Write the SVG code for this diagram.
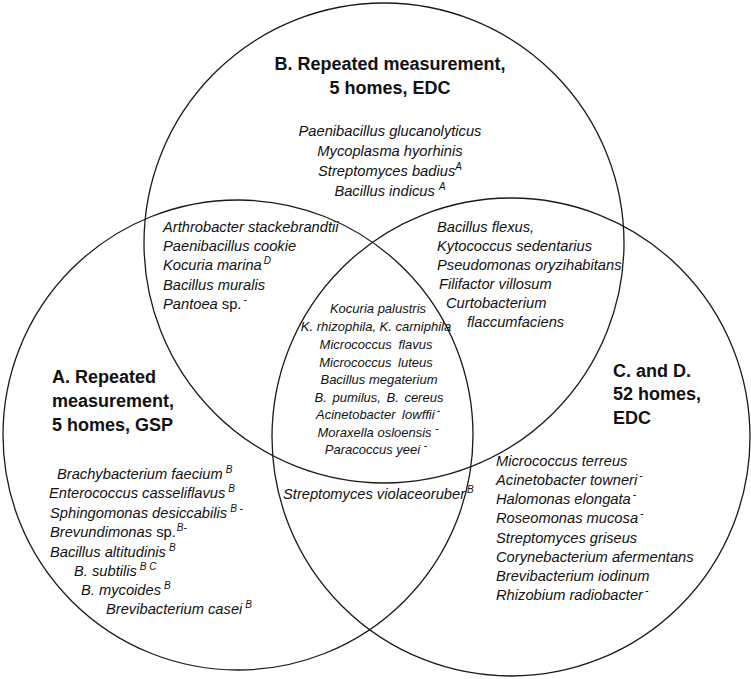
<svg xmlns="http://www.w3.org/2000/svg" width="751" height="679" viewBox="0 0 751 679">
<style>
.c{fill:none;stroke:#1a1a1a;stroke-width:1.3}
text{font-family:"Liberation Sans",Arial,sans-serif;fill:#111}
.t{font-weight:bold;font-size:18px}
.s{font-style:italic;font-size:14.7px}
.m{font-style:italic;font-size:13px;text-anchor:middle}
.mid{text-anchor:middle}
.u{font-style:normal}
.p{font-size:10px;font-style:italic}
</style>
<rect width="751" height="679" fill="#fff"/>
<g id="circles">
<circle id="circleB" class="c" cx="384" cy="243" r="240"/>
<circle id="circleA" class="c" cx="238" cy="435" r="235"/>
<circle id="circleC" class="c" cx="511" cy="437" r="239"/>
</g>
<g id="connectors"/>
<g id="B-only">
<text class="t mid" x="390" y="70">B. Repeated measurement,</text>
<text class="t mid" x="390" y="94">5 homes, EDC</text>
<text class="s mid" x="390" y="136">Paenibacillus glucanolyticus</text>
<text class="s mid" x="390" y="156">Mycoplasma hyorhinis</text>
<text class="s mid" x="390" y="176">Streptomyces badius<tspan class="p" dy="-6">A</tspan></text>
<text class="s mid" x="390" y="196">Bacillus indicus  <tspan class="p" dy="-6">A</tspan></text>
</g>
<g id="A-B">
<text class="s" x="163" y="232">Arthrobacter stackebrandtii</text>
<text class="s" x="163" y="251">Paenibacillus cookie</text>
<text class="s" x="163" y="270">Kocuria marina<tspan class="p" dx="2" dy="-6">D</tspan></text>
<text class="s" x="163" y="290">Bacillus muralis</text>
<text class="s" x="163" y="309">Pantoea<tspan class="u"> sp.</tspan><tspan class="p" dx="2" dy="-6">-</tspan></text>
</g>
<g id="B-C">
<text class="s" x="437" y="232">Bacillus flexus,</text>
<text class="s" x="437" y="251">Kytococcus sedentarius</text>
<text class="s" x="437" y="270">Pseudomonas oryzihabitans</text>
<text class="s" x="439" y="289">Filifactor villosum</text>
<text class="s" x="446" y="308">Curtobacterium</text>
<text class="s" x="467" y="327">flaccumfaciens</text>
</g>
<g id="A-B-C">
<text class="m" x="378" y="313">Kocuria palustris</text>
<text class="m" x="376" y="331">K. rhizophila, K. carniphila</text>
<text class="m" x="376" y="349" word-spacing="3">Micrococcus flavus</text>
<text class="m" x="376" y="367" word-spacing="3">Micrococcus luteus</text>
<text class="m" x="379" y="384">Bacillus megaterium</text>
<text class="m" x="379" y="402" word-spacing="2">B. pumilus, B. cereus</text>
<text class="m" x="378" y="419" word-spacing="3">Acinetobacter lowffii<tspan class="p" dx="2" dy="-5">-</tspan></text>
<text class="m" x="378" y="437">Moraxella osloensis <tspan class="p" dy="-5">-</tspan></text>
<text class="m" x="376" y="454">Paracoccus yeei <tspan class="p" dy="-5">-</tspan></text>
</g>
<g id="A-only">
<text class="t" x="52" y="383">A. Repeated</text>
<text class="t" x="52" y="407">measurement,</text>
<text class="t" x="52" y="431">5 homes, GSP</text>
<text class="s" x="57" y="479">Brachybacterium faecium<tspan class="p" dx="3" dy="-6">B</tspan></text>
<text class="s" x="49" y="498">Enterococcus casseliflavus<tspan class="p" dx="3" dy="-6">B</tspan></text>
<text class="s" x="50" y="518">Sphingomonas desiccabilis<tspan class="p" dx="3" dy="-6">B -</tspan></text>
<text class="s" x="50" y="537">Brevundimonas<tspan class="u"> sp.</tspan><tspan class="p" dx="1" dy="-6">B-</tspan></text>
<text class="s" x="50" y="557">Bacillus altitudinis<tspan class="p" dx="3" dy="-6">B</tspan></text>
<text class="s" x="74" y="576">B. subtilis<tspan class="p" dx="3" dy="-6">B C</tspan></text>
<text class="s" x="81" y="595">B. mycoides<tspan class="p" dx="3" dy="-6">B</tspan></text>
<text class="s" x="106" y="614">Brevibacterium casei<tspan class="p" dx="3" dy="-6">B</tspan></text>
</g>
<g id="A-C">
<text class="s" x="283" y="499">Streptomyces violaceoruber<tspan class="p" dx="2" dy="-6">B</tspan></text>
</g>
<g id="C-only">
<text class="t" x="613" y="377">C. and D.</text>
<text class="t" x="613" y="400">52 homes,</text>
<text class="t" x="613" y="424">EDC</text>
<text class="s" x="496" y="466">Micrococcus terreus</text>
<text class="s" x="496" y="485">Acinetobacter towneri<tspan class="p" dx="2" dy="-6">-</tspan></text>
<text class="s" x="496" y="504">Halomonas elongata<tspan class="p" dx="2" dy="-6">-</tspan></text>
<text class="s" x="496" y="523">Roseomonas mucosa<tspan class="p" dx="2" dy="-6">-</tspan></text>
<text class="s" x="496" y="543">Streptomyces griseus</text>
<text class="s" x="496" y="562">Corynebacterium afermentans</text>
<text class="s" x="496" y="581">Brevibacterium iodinum</text>
<text class="s" x="496" y="600">Rhizobium radiobacter<tspan class="p" dx="2" dy="-6">-</tspan></text>
</g>
</svg>
